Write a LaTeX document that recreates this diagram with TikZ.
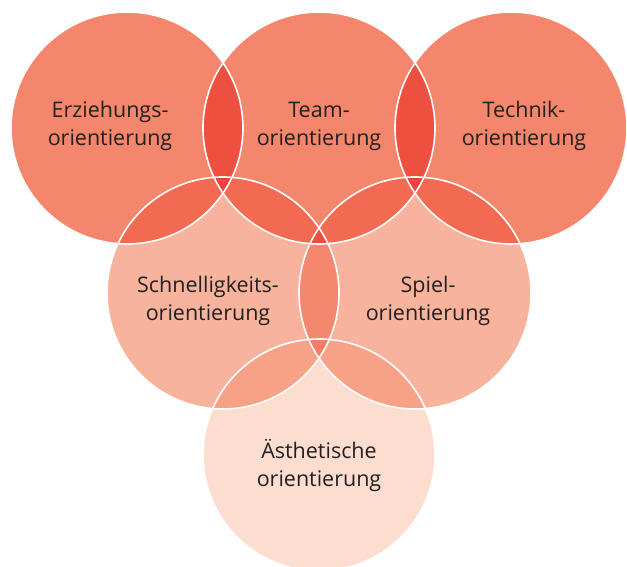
\documentclass[tikz,border=0pt]{standalone}
\usepackage{fontspec}
\setmainfont{Open Sans}
\usetikzlibrary{positioning}
\definecolor{topfill}{HTML}{F4866C}
\definecolor{midfill}{HTML}{F8B39D}
\definecolor{lowfill}{HTML}{FCDDD0}
\definecolor{toptop}{HTML}{EE5040}
\definecolor{topmid}{HTML}{F26A52}
\definecolor{tripletop}{HTML}{EA4538}
\definecolor{triplemid}{HTML}{EC4D3E}
\definecolor{midmid}{HTML}{F4886E}
\definecolor{midlow}{HTML}{F7A287}
\definecolor{triplelow}{HTML}{F47F64}
\definecolor{inktext}{HTML}{231F20}
\tikzset{
  % Specifications for style of rings:
  base/.style = {
    circle,
    minimum size=232pt,
    inner sep=0pt
  },
  ringtop/.style = {
    base,
    fill=topfill
  },
  ringmid/.style = {
    base,
    fill=midfill
  },
  ringlow/.style = {
    base,
    fill=lowfill
  },
  edge/.style = {
    draw=white,
    line width=1.6pt
  },
  tag/.style = {
    text=inktext,
    align=center,
    font=\fontsize{21.5}{28}\selectfont
  },
}

\begin{document}
\begin{tikzpicture}[x=1pt, y=-1pt]
    \useasboundingbox (0,0) rectangle (627,567);
    % Specification of rings (position, etc.)
    \node[ringtop] (erz)   at (127,128) {};
    \node[ringtop] (team)  at (319,128) {};
    \node[ringtop] (tech)  at (511,128) {};
    \node[ringmid] (schn)  at (223,293) {};
    \node[ringmid] (spiel) at (415,293) {};
    \node[ringlow] (aest)  at (319,455) {};
    % overlaps of two rings
    \begin{scope}
      \clip (erz.center) circle (116pt);
      \fill[toptop] (team.center) circle (116pt);
      \fill[topmid] (schn.center) circle (116pt);
    \end{scope}
    \begin{scope}
      \clip (team.center) circle (116pt);
      \fill[toptop] (tech.center) circle (116pt);
      \fill[topmid] (schn.center) circle (116pt);
      \fill[topmid] (spiel.center) circle (116pt);
    \end{scope}
    \begin{scope}
      \clip (tech.center) circle (116pt);
      \fill[topmid] (spiel.center) circle (116pt);
    \end{scope}
    \begin{scope}
      \clip (schn.center) circle (116pt);
      \fill[midmid] (spiel.center) circle (116pt);
      \fill[midlow] (aest.center) circle (116pt);
    \end{scope}
    \begin{scope}
      \clip (spiel.center) circle (116pt);
      \fill[midlow] (aest.center) circle (116pt);
    \end{scope}
    % overlaps of three rings
    \begin{scope}
      \clip (erz.center) circle (116pt);
      \clip (team.center) circle (116pt);
      \fill[tripletop] (schn.center) circle (116pt);
    \end{scope}
    \begin{scope}
      \clip (team.center) circle (116pt);
      \clip (tech.center) circle (116pt);
      \fill[tripletop] (spiel.center) circle (116pt);
    \end{scope}
    \begin{scope}
      \clip (team.center) circle (116pt);
      \clip (schn.center) circle (116pt);
      \fill[triplemid] (spiel.center) circle (116pt);
    \end{scope}
    \begin{scope}
      \clip (schn.center) circle (116pt);
      \clip (spiel.center) circle (116pt);
      \fill[triplelow] (aest.center) circle (116pt);
    \end{scope}
    % white outlines
    \foreach \ring in {erz,team,tech,schn,spiel,aest}
      \draw[edge] (\ring.center) circle (116pt);
    % texts
    \node[tag] (erzT)   at ([xshift=-17pt, yshift=2pt]erz.center)   {Erziehungs-\\orientierung};
    \node[tag] (teamT)  at ([yshift=2pt]team.center)                {Team-\\orientierung};
    \node[tag] (techT)  at ([xshift=13pt, yshift=2pt]tech.center)   {Technik-\\orientierung};
    \node[tag] (schnT)  at ([xshift=-15pt, yshift=-8pt]schn.center) {Schnelligkeits-\\orientierung};
    \node[tag] (spielT) at ([xshift=13pt, yshift=-8pt]spiel.center) {Spiel-\\orientierung};
    \node[tag] (aestT)  at ([yshift=-10pt]aest.center)              {Ästhetische\\orientierung};
  \end{tikzpicture}
\end{document}
